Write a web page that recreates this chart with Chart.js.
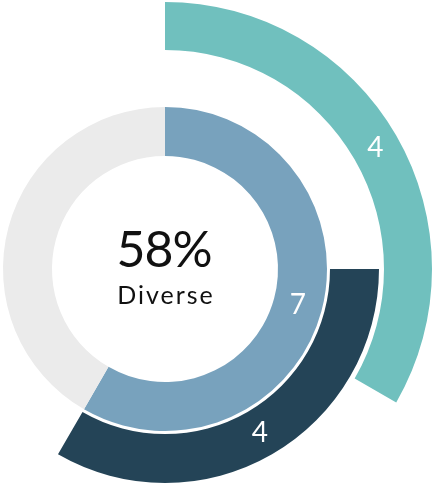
<!DOCTYPE html>
<html>
<head>
<meta charset="utf-8">
<script src="https://cdn.jsdelivr.net/npm/chart.js@4/dist/chart.umd.min.js"></script>
<style>
  html, body { margin: 0; padding: 0; background: #ffffff; overflow: hidden; width: 434px; height: 486px; }
  #wrap { position: absolute; left: -102px; top: 2px; width: 534px; height: 534px; }
</style>
</head>
<body>
<div id="wrap"><canvas id="c" width="534" height="534"></canvas></div>
<script>
// ---- data ----
const outerLabels = ["Group A", ""];
const outerValues = [4, 8];
const middleLabels = ["", "Group B", ""];
const middleValues = [3, 4, 5];
const innerLabels = ["Diverse", "Not diverse"];
const innerValues = [7, 5];
const centerValue = "58%";
const centerText = "Diverse";

// ---- styles ----
const TEAL = "#70c0be";
const NAVY = "#244457";
const BLUE = "#78a2bd";
const GRAY = "#ebebeb";
const NONE = "rgba(0,0,0,0)";
const FONT = "Lato, 'Open Sans', sans-serif";

const labelPlugin = {
  id: "arcLabels",
  afterDatasetsDraw(chart) {
    const ctx = chart.ctx;
    ctx.save();
    ctx.fillStyle = "#ffffff";
    ctx.font = "28px " + FONT;
    ctx.textAlign = "center";
    ctx.textBaseline = "middle";
    chart.data.datasets.forEach((ds, di) => {
      if (!ds.showLabels) return;
      const meta = chart.getDatasetMeta(di);
      meta.data.forEach((arc, i) => {
        if (!ds.showLabels[i]) return;
        const p = arc.tooltipPosition();
        ctx.fillText(String(ds.data[i]), p.x, p.y);
      });
    });
    // center text
    const arc0 = chart.getDatasetMeta(0).data[0];
    const cx = arc0.x, cy = arc0.y;
    ctx.fillStyle = "#111111";
    ctx.textBaseline = "alphabetic";
    ctx.font = "50px " + FONT;
    ctx.letterSpacing = "-1px";
    ctx.fillText(centerValue, cx - 1, cy - 2);
    ctx.font = "25px " + FONT;
    ctx.letterSpacing = "2px";
    ctx.fillText(centerText, cx + 1, cy + 35);
    ctx.restore();
  }
};

new Chart(document.getElementById("c"), {
  type: "doughnut",
  data: {
    labels: ["a", "b", "c"],
    datasets: [
      { data: outerValues, backgroundColor: [TEAL, NONE], weight: 48, showLabels: [true, false] },
      { data: [1], backgroundColor: [NONE], weight: 5 },
      { data: middleValues, backgroundColor: [NONE, NAVY, NONE], weight: 49, showLabels: [false, true, false] },
      { data: [1], backgroundColor: [NONE], weight: 3 },
      { data: innerValues, backgroundColor: [BLUE, GRAY], weight: 49, showLabels: [true, false] }
    ]
  },
  options: {
    responsive: false,
    animation: false,
    devicePixelRatio: 1,
    cutout: 113,
    borderWidth: 0,
    layout: { padding: 0 },
    elements: { arc: { borderWidth: 0 } },
    plugins: { legend: { display: false }, tooltip: { enabled: false } }
  },
  plugins: [labelPlugin]
});
</script>
</body>
</html>
